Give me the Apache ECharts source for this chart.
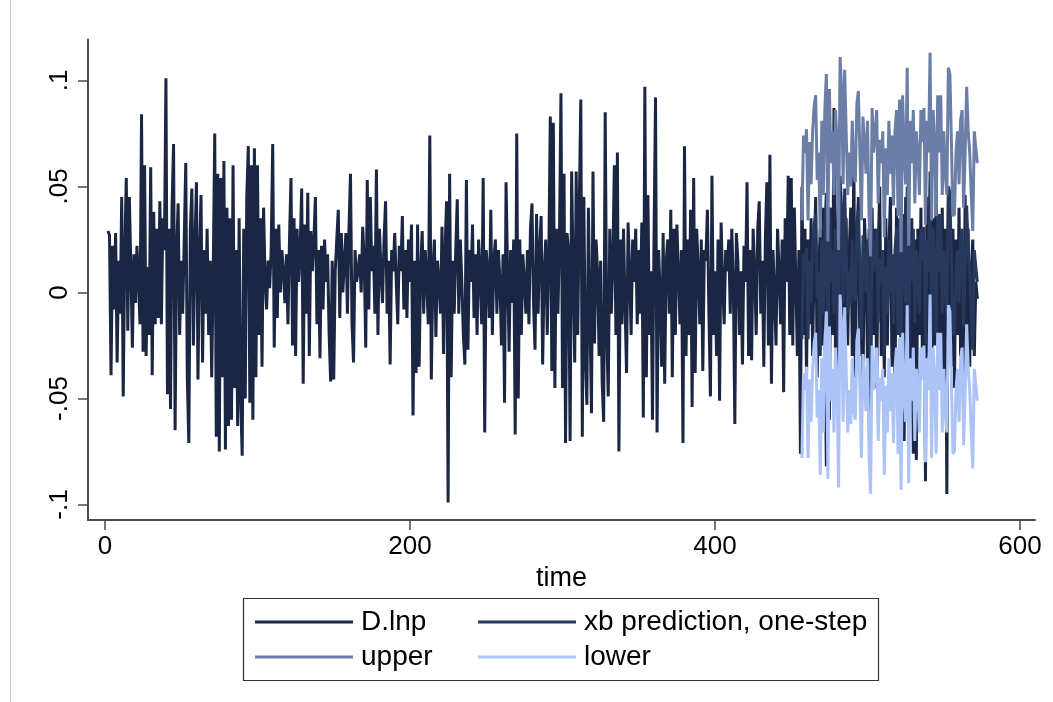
<!DOCTYPE html>
<html>
<head>
<meta charset="utf-8">
<script src="https://cdn.jsdelivr.net/npm/echarts@6/dist/echarts.min.js"></script>
<style>
html,body{margin:0;padding:0;background:#fff;}
#c{width:1053px;height:702px;}
</style>
</head>
<body>
<div id="c"></div>
<script>
// ---- data ----
const timeStart = 2;            // first period of D.lnp
const xTicks = [0, 200, 400, 600];
const yTicks = [-0.1, -0.05, 0, 0.05, 0.1];
const seriesNames = ['D.lnp', 'xb prediction, one-step', 'upper', 'lower'];

// D.lnp, t = 2 .. 572
const dlnp = [
 .029,.027,-.039,.022,-.008,.028,-.033,.015,-.010,.045,
 -.049,.020,.054,-.018,.045,.012,-.026,.018,-.005,.022,
 .004,-.015,.084,-.028,.060,-.030,.012,-.020,.059,-.039,
 .038,-.015,.030,-.012,.043,-.015,.035,.020,.101,-.048,
 .030,-.055,.040,.070,-.065,.020,.042,-.020,.015,-.010,
 .025,.061,-.040,-.071,.030,.049,-.025,.022,.052,-.041,
 .018,.046,-.033,.020,-.010,.030,-.020,.015,-.040,.010,
 .075,-.068,.056,-.075,.054,-.040,.062,-.074,.040,-.063,
 .035,-.060,.060,-.045,.020,-.063,.035,-.050,-.077,.030,
 -.050,.045,.069,-.052,.060,-.060,.068,-.040,.060,-.020,
 .035,-.035,.040,.007,-.008,.015,.002,.020,.070,-.026,
 .030,-.012,.032,.000,.020,.010,-.005,.018,-.015,.025,
 .054,-.025,.035,-.030,.030,.005,.020,.049,-.043,.032,
 -.010,.047,-.030,.029,.010,.025,.045,-.015,.020,-.031,
 .022,-.008,.025,.005,.018,-.020,-.042,.015,-.041,.010,
 .025,.039,-.012,.028,.000,.015,.028,-.010,.030,.056,
 -.015,-.033,.020,.005,.010,.018,.000,.031,.015,-.026,
 .053,-.008,.045,.010,.022,-.010,.058,-.020,.030,.010,
 -.005,.025,.043,-.010,.015,-.034,.020,.010,.028,.005,
 -.015,.022,.010,.036,-.008,.020,-.012,.025,.005,.032,
 -.058,.015,-.038,.032,-.035,.010,.029,-.010,.020,.005,
 -.015,.074,-.041,.010,.025,-.021,.015,.005,-.010,.031,
 -.029,.020,.043,-.099,.056,-.040,.015,-.010,.020,.044,
 -.010,.025,.005,-.020,-.034,.053,-.027,.020,.005,.032,
 -.012,.018,-.020,.025,.008,-.015,.054,-.066,.020,.010,
 -.012,.039,-.020,.015,.025,-.010,.020,.005,-.025,.018,
 -.052,.052,.010,-.028,.020,-.005,.025,-.067,.075,-.050,
 .025,-.020,.018,.005,-.010,.020,-.015,.030,.042,-.005,
 -.027,.037,-.010,.020,.036,-.034,.010,.025,-.020,.015,
 .083,-.037,.080,-.045,.030,-.010,.025,.094,-.045,.056,
 -.071,.028,.020,-.070,.057,.010,-.033,.057,-.020,.040,
 .091,-.068,.045,-.030,-.053,.040,-.010,-.057,.057,-.024,
 .025,.010,-.030,.015,-.042,-.061,.085,-.020,-.049,.030,
 -.010,.015,.060,-.020,.066,-.075,.025,-.015,.030,-.005,
 -.038,.033,.010,-.020,.025,.005,.030,-.015,.020,-.010,
 .033,-.059,.097,-.040,.046,-.020,.010,-.060,.025,.092,
 -.066,.020,.000,-.035,.028,-.043,.015,.025,-.010,.039,
 -.040,.030,-.020,.032,.010,-.015,.020,-.071,.069,-.030,
 .025,-.020,.039,-.054,.054,-.038,.030,.010,-.015,.025,
 -.037,.020,.015,.039,-.010,-.049,.055,-.020,.010,-.030,
 .025,-.051,.033,.005,-.015,.020,.010,.025,-.010,.030,
 .005,-.062,.028,.015,-.020,.010,-.034,.022,.005,.052,
 -.030,.020,-.032,.030,.010,-.020,.030,.043,-.010,.015,
 -.035,.025,.052,-.025,.065,-.043,.020,.000,-.025,.030,
 .010,-.015,.025,-.047,.035,.005,.055,-.020,.054,-.025,
 .040,.005,-.030,.020,-.076,.050,-.020,.030,-.040,.025,
 -.015,.035,-.030,.015,.045,-.040,.010,.030,-.025,.040,
 -.010,-.082,.025,-.060,.040,-.020,.087,-.030,.020,.053,
 -.035,.030,.010,-.045,.035,-.025,.020,.040,-.030,.065,
 -.040,.025,.045,-.030,.010,-.050,.035,.015,-.035,.030,
 -.060,.040,-.020,.030,-.045,.020,.050,-.030,.015,-.040,
 .035,-.025,.020,.045,-.035,.010,-.050,.040,-.020,.030,
 -.030,.025,-.070,.045,-.030,.020,-.040,.035,-.076,.025,
 -.079,.030,-.020,.040,-.035,.015,-.089,.045,-.030,.020,
 -.045,.035,-.025,.050,-.040,.020,-.030,.040,-.050,.030,
 -.095,.045,.020,-.035,.030,-.045,.025,-.020,.040,-.030,
 .015,-.040,.046,-.025,.030,-.035,.010,.025,-.030,.005,
 -.003
];

// one-step forecast period, t = 457 .. 572
const forecastStart = 457;
const xb = [
 -.022,.018,.010,.021,-.022,.015,-.005,.020,.032,.037,
 -.003,.010,-.030,.025,-.010,.030,.047,-.032,.040,.005,
 .020,-.010,.030,.015,-.036,.055,.040,-.005,.049,.020,
 -.010,.010,-.006,.025,.000,-.004,.033,.039,.010,-.022,
 .027,.015,.000,.025,-.020,-.039,.031,.010,.020,.030,
 -.014,.016,.005,.020,-.030,.012,-.010,.025,.000,.018,
 -.015,.020,.030,-.020,.035,-.037,.037,.010,-.005,.050,
 -.034,.025,.005,.030,-.014,.020,.010,-.010,.030,.015,
 .031,-.024,.025,.010,.057,-.022,.030,.015,-.020,.037,
 .010,.037,-.010,.020,.000,-.010,.050,.047,.015,-.020,
 -.019,.010,.020,-.005,.025,.030,-.016,.010,.041,.020,
 .010,-.010,-.027,.020,.012,.005
];
const upper = [
 .034,.074,.066,.077,.034,.071,.051,.076,.088,.093,
 .053,.066,.026,.081,.046,.086,.103,.024,.096,.061,
 .076,.046,.086,.071,.020,.111,.096,.051,.105,.076,
 .046,.066,.050,.081,.056,.052,.089,.095,.066,.034,
 .083,.071,.056,.081,.036,.017,.087,.066,.076,.086,
 .042,.072,.061,.076,.026,.068,.046,.081,.056,.074,
 .041,.076,.086,.036,.091,.019,.093,.066,.051,.106,
 .022,.081,.061,.086,.042,.076,.066,.046,.086,.071,
 .087,.032,.081,.066,.113,.034,.086,.071,.036,.093,
 .066,.093,.046,.076,.056,.046,.106,.103,.071,.036,
 .037,.066,.076,.051,.081,.086,.040,.066,.097,.076,
 .066,.046,.029,.076,.068,.061
];
const lower = [
 -.078,-.038,-.046,-.035,-.078,-.041,-.061,-.036,-.024,-.019,
 -.059,-.046,-.086,-.031,-.066,-.026,-.009,-.088,-.016,-.051,
 -.036,-.066,-.026,-.041,-.092,-.001,-.016,-.061,-.007,-.036,
 -.066,-.046,-.062,-.031,-.056,-.060,-.023,-.017,-.046,-.078,
 -.029,-.041,-.056,-.031,-.076,-.095,-.025,-.046,-.036,-.026,
 -.070,-.040,-.051,-.036,-.086,-.044,-.066,-.031,-.056,-.038,
 -.071,-.036,-.026,-.076,-.021,-.093,-.019,-.046,-.061,-.006,
 -.090,-.031,-.051,-.026,-.070,-.036,-.046,-.066,-.026,-.041,
 -.025,-.080,-.031,-.046,-.001,-.078,-.026,-.041,-.076,-.019,
 -.046,-.019,-.066,-.036,-.056,-.066,-.006,-.009,-.041,-.076,
 -.075,-.046,-.036,-.061,-.031,-.026,-.072,-.046,-.015,-.036,
 -.046,-.066,-.083,-.036,-.044,-.051
];

// ---- build chart ----
const pairs = (arr, t0) => arr.map((v, i) => [t0 + i, v]);
const colors = ['#1a2643', '#27385d', '#6b7ea8', '#abc3f6'];
const FONT = 'Liberation Sans, Arial, sans-serif';

function stataFmt(v) {
  if (Math.abs(v) < 1e-12) return '0';
  const s = String(Math.abs(+v.toFixed(4))).replace(/^0/, '');
  return (v < 0 ? '-' : '') + s;
}

const chart = echarts.init(document.getElementById('c'), null, {renderer: 'canvas'});
const legendPos = [
  {left: 255, top: 608},
  {left: 478, top: 608},
  {left: 255, top: 643},
  {left: 478, top: 643}
];
const LW = 3;
chart.setOption({
  backgroundColor: '#ffffff',
  animation: false,
  grid: {left: 88, right: 18, top: 39.5, bottom: 182, containLabel: false, outerBoundsMode: 'none'},
  xAxis: {
    type: 'value', min: -11.1, max: 609.8,
    name: 'time', nameLocation: 'middle', nameGap: 39,
    nameTextStyle: {fontSize: 27, color: '#000', fontFamily: FONT},
    axisLine: {show: true, onZero: false, lineStyle: {color: '#4a4a4a', width: 2}},
    axisTick: {show: true, length: 10, lineStyle: {color: '#4a4a4a', width: 1.5}, customValues: xTicks},
    axisLabel: {customValues: xTicks, fontSize: 26, color: '#000', fontFamily: FONT, margin: 14},
    splitLine: {show: false}
  },
  yAxis: {
    type: 'value', min: -0.1073, max: 0.1193,
    axisLine: {show: true, onZero: false, lineStyle: {color: '#4a4a4a', width: 2}},
    axisTick: {show: true, length: 10, lineStyle: {color: '#4a4a4a', width: 1.5}, customValues: yTicks},
    axisLabel: {customValues: yTicks, fontSize: 26, color: '#000', fontFamily: FONT, rotate: 90, margin: 15,
      formatter: stataFmt},
    splitLine: {show: false}
  },
  legend: seriesNames.map((n, i) => ({
    data: [n], left: legendPos[i].left, top: legendPos[i].top,
    icon: 'rect', itemWidth: 98, itemHeight: 3, itemGap: 0,
    textStyle: {fontSize: 28, color: '#000', fontFamily: FONT, padding: [0, 0, 0, 3]},
    padding: 0, selectedMode: false
  })),
  graphic: [
    {type: 'line', shape: {x1: 10.5, y1: 0, x2: 10.5, y2: 702}, style: {stroke: '#c8c8c8', lineWidth: 1}, silent: true},
    {type: 'rect', shape: {x: 243.5, y: 598.5, width: 635, height: 82}, style: {fill: 'none', stroke: '#333', lineWidth: 1.2}, silent: true}
  ],
  series: [
    {name: seriesNames[0], type: 'line', data: pairs(dlnp, timeStart), symbol: 'none', color: colors[0], lineStyle: {width: LW, color: colors[0]}, z: 2},
    {name: seriesNames[1], type: 'line', data: pairs(xb, forecastStart), symbol: 'none', color: colors[1], lineStyle: {width: LW, color: colors[1]}, z: 3},
    {name: seriesNames[2], type: 'line', data: pairs(upper, forecastStart), symbol: 'none', color: colors[2], lineStyle: {width: LW, color: colors[2]}, z: 4},
    {name: seriesNames[3], type: 'line', data: pairs(lower, forecastStart), symbol: 'none', color: colors[3], lineStyle: {width: LW, color: colors[3]}, z: 5}
  ]
});
</script>
</body>
</html>
